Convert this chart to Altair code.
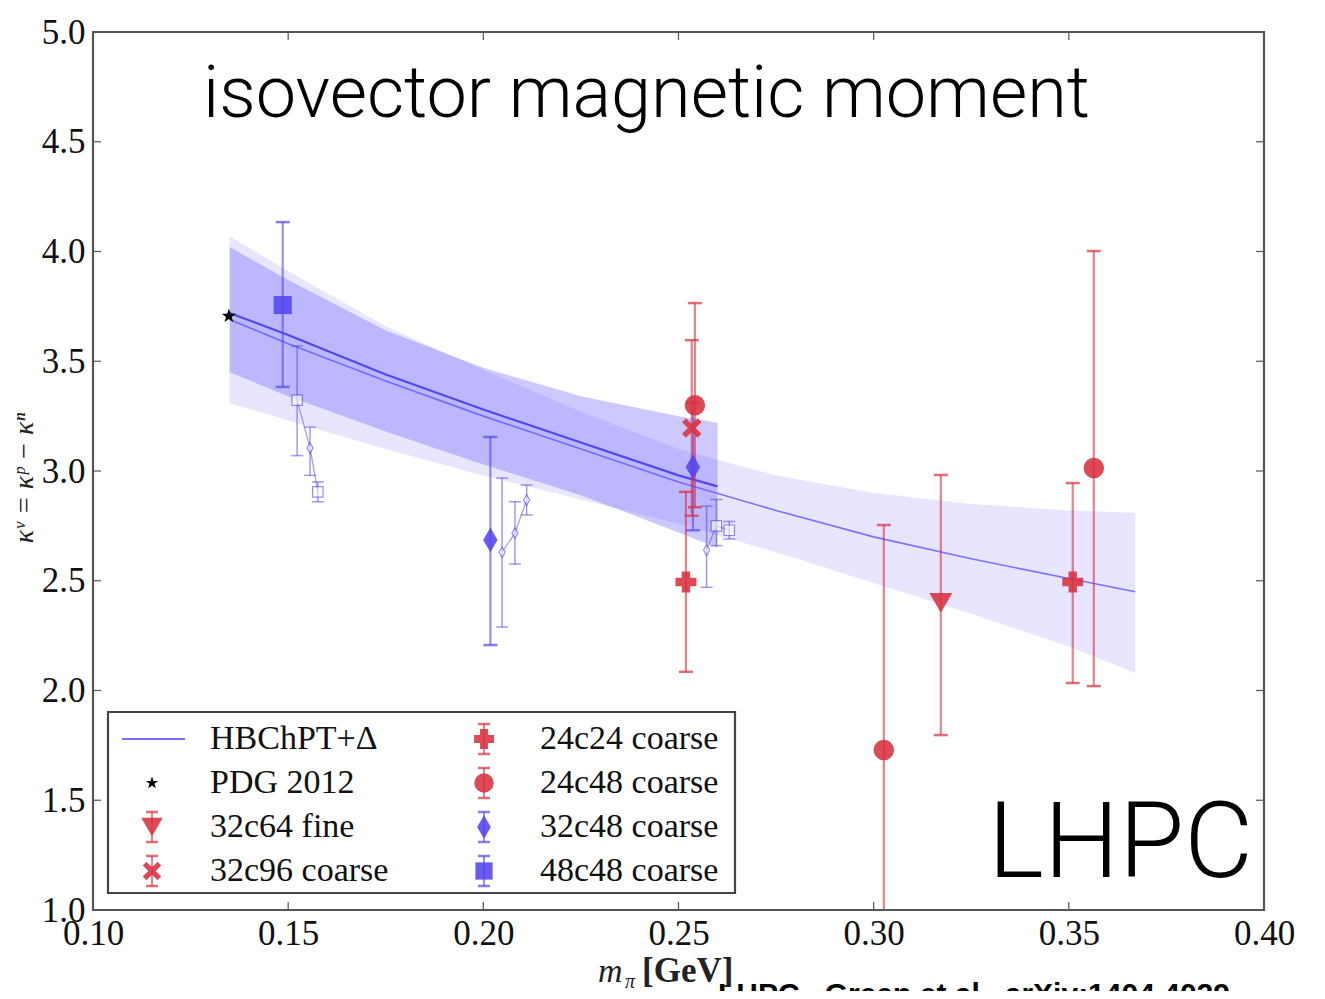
import altair as alt
import pandas as pd

# ---------------- data ----------------
xticks = [0.10, 0.15, 0.20, 0.25, 0.30, 0.35, 0.40]
yticks = [1.0, 1.5, 2.0, 2.5, 3.0, 3.5, 4.0, 4.5, 5.0]

# full-range HBChPT+Delta fit (light band)
band_a_x = [0.135, 0.15, 0.175, 0.20, 0.225, 0.25, 0.275, 0.30, 0.325, 0.35, 0.367]
band_a_lo = [3.31, 3.23, 3.10, 2.98, 2.87, 2.76, 2.63, 2.49, 2.35, 2.20, 2.08]
band_a_mid = [3.69, 3.58, 3.41, 3.25, 3.10, 2.95, 2.82, 2.70, 2.60, 2.51, 2.45]
band_a_hi = [4.07, 3.91, 3.66, 3.46, 3.27, 3.10, 2.98, 2.90, 2.85, 2.82, 2.81]

# restricted-range fit (darker band)
band_b_x = [0.135, 0.15, 0.175, 0.20, 0.225, 0.25, 0.26]
band_b_lo = [3.45, 3.34, 3.18, 3.03, 2.89, 2.72, 2.65]
band_b_mid = [3.72, 3.62, 3.44, 3.28, 3.13, 2.98, 2.93]
band_b_hi = [4.02, 3.87, 3.64, 3.47, 3.34, 3.25, 3.22]

# lattice ensembles (filled markers)
ens_label = ["48c48 coarse", "32c48 coarse", "32c48 coarse", "24c48 coarse", "32c96 coarse",
             "24c24 coarse", "24c48 coarse", "32c64 fine", "24c24 coarse", "24c48 coarse"]
ens_x = [0.1486, 0.2018, 0.2537, 0.2542, 0.2534, 0.2519, 0.3026, 0.3172, 0.3510, 0.3564]
ens_y = [3.756, 2.686, 3.018, 3.300, 3.196, 2.494, 1.729, 2.399, 2.494, 3.014]
ens_lo = [3.383, 2.207, 2.730, 2.835, 2.796, 2.085, 0.700, 1.797, 2.034, 2.020]
ens_hi = [4.134, 3.155, 3.310, 3.765, 3.596, 2.905, 2.754, 2.982, 2.945, 4.002]

# open (corrected) points
open_x = [0.1523, 0.1556, 0.1576, 0.2048, 0.2081, 0.2111, 0.2572, 0.2597, 0.2630]
open_y = [3.323, 3.105, 2.905, 2.630, 2.717, 2.868, 2.640, 2.750, 2.730]
open_lo = [3.07, 2.98, 2.86, 2.289, 2.576, 2.80, 2.47, 2.66, 2.69]
open_hi = [3.57, 3.20, 2.95, 2.968, 2.860, 2.936, 2.84, 2.87, 2.77]
open_grp = [1, 1, 1, 2, 2, 2, 3, 3, 3]
open_shape = ["square", "diamond", "square", "diamond", "diamond", "diamond", "diamond", "square", "square"]

# PDG value
pdg_x = [0.1348]
pdg_y = [3.706]

legend_labels = ["HBChPT+Δ", "PDG 2012", "32c64 fine", "32c96 coarse",
                 "24c24 coarse", "24c48 coarse", "32c48 coarse", "48c48 coarse"]

# ---------------- styling ----------------
RED = "#d8313f"
BLUE = "#5444f0"
STAR = "M0,-1L0.235,-0.324L0.951,-0.309L0.38,0.124L0.588,0.809L0,0.4L-0.588,0.809L-0.38,0.124L-0.951,-0.309L-0.235,-0.324Z"
THIN_DIAMOND = "M0,-1L0.58,0L0,1L-0.58,0Z"
XMARK = "M-1,-0.6L-0.6,-1L0,-0.4L0.6,-1L1,-0.6L0.4,0L1,0.6L0.6,1L0,0.4L-0.6,1L-1,0.6L-0.4,0Z"

style = {
    "48c48 coarse": ("square", BLUE, 330),
    "32c48 coarse": (THIN_DIAMOND, BLUE, 620),
    "24c48 coarse": ("circle", RED, 420),
    "32c96 coarse": (XMARK, RED, 380),
    "24c24 coarse": ("cross", RED, 440),
    "32c64 fine": ("triangle-down", RED, 520),
}

W, H = 1171, 878
SERIF = "Liberation Serif"

xs = alt.Scale(domain=[0.10, 0.40], nice=False, zero=False)
ys = alt.Scale(domain=[1.0, 5.0], nice=False, zero=False)

band_a = pd.DataFrame({"x": band_a_x, "lo": band_a_lo, "mid": band_a_mid, "hi": band_a_hi})
band_b = pd.DataFrame({"x": band_b_x, "lo": band_b_lo, "mid": band_b_mid, "hi": band_b_hi})

ens = pd.DataFrame({"label": ens_label, "x": ens_x, "y": ens_y, "lo": ens_lo, "hi": ens_hi})
ens["shape"] = [style[l][0] for l in ens_label]
ens["color"] = [style[l][1] for l in ens_label]
ens["size"] = [style[l][2] for l in ens_label]

opn = pd.DataFrame({"x": open_x, "y": open_y, "lo": open_lo, "hi": open_hi,
                    "grp": open_grp, "shape": [THIN_DIAMOND if s == "diamond" else s for s in open_shape]})

X = alt.X("x:Q", scale=xs, axis=alt.Axis(values=xticks, format=".2f", ticks=False, domain=False, grid=False,
                                          labelFont=SERIF, labelFontSize=35, labelColor="#111",
                                          labelPadding=6, labelFlush=False, labelOverlap=False, title=None))
Y = alt.Y("lo:Q", scale=ys, axis=alt.Axis(values=yticks, format=".1f", ticks=False, domain=False, grid=False,
                                           labelFont=SERIF, labelFontSize=35, labelColor="#111",
                                           labelPadding=8, labelFlush=False, labelOverlap=False, title=None))

layers = []
layers.append(alt.Chart(band_a).mark_area(color="#6a5cff", opacity=0.16).encode(x=X, y=Y, y2="hi:Q"))
layers.append(alt.Chart(band_b).mark_area(color="#5a4cff", opacity=0.30).encode(
    x=alt.X("x:Q", scale=xs), y=alt.Y("lo:Q", scale=ys), y2="hi:Q"))
layers.append(alt.Chart(band_a).mark_line(color="#6c5cff", strokeWidth=1.6, opacity=0.85).encode(
    x=alt.X("x:Q", scale=xs), y=alt.Y("mid:Q", scale=ys)))
layers.append(alt.Chart(band_b).mark_line(color="#4a38f0", strokeWidth=2.2, opacity=0.9).encode(
    x=alt.X("x:Q", scale=xs), y=alt.Y("mid:Q", scale=ys)))

# open points: zigzag lines, error bars, markers
layers.append(alt.Chart(opn).mark_line(color=BLUE, strokeWidth=1.2, opacity=0.55).encode(
    x=alt.X("x:Q", scale=xs), y=alt.Y("y:Q", scale=ys), detail="grp:N", order="x:Q"))
layers.append(alt.Chart(opn).mark_rule(color=BLUE, strokeWidth=1.5, opacity=0.55).encode(
    x=alt.X("x:Q", scale=xs), y=alt.Y("lo:Q", scale=ys), y2="hi:Q"))
for f in ["lo", "hi"]:
    layers.append(alt.Chart(opn).mark_tick(color=BLUE, orient="horizontal", size=12, thickness=1.5, opacity=0.55).encode(
        x=alt.X("x:Q", scale=xs), y=alt.Y(f + ":Q", scale=ys)))
layers.append(alt.Chart(opn).mark_point(fill="white", filled=False, stroke=BLUE, strokeWidth=1.2, opacity=0.6, size=110).encode(
    x=alt.X("x:Q", scale=xs), y=alt.Y("y:Q", scale=ys), shape=alt.Shape("shape:N", scale=None)))

# ensembles: error bars, caps, markers
layers.append(alt.Chart(ens).mark_rule(strokeWidth=2.2, opacity=0.6, clip=True).encode(
    x=alt.X("x:Q", scale=xs), y=alt.Y("lo:Q", scale=ys), y2="hi:Q", color=alt.Color("color:N", scale=None)))
for f in ["lo", "hi"]:
    layers.append(alt.Chart(ens).mark_tick(orient="horizontal", size=14, thickness=2.5, opacity=0.7, clip=True).encode(
        x=alt.X("x:Q", scale=xs), y=alt.Y(f + ":Q", scale=ys), color=alt.Color("color:N", scale=None)))
layers.append(alt.Chart(ens).mark_point(filled=True, opacity=0.88).encode(
    x=alt.X("x:Q", scale=xs), y=alt.Y("y:Q", scale=ys), shape=alt.Shape("shape:N", scale=None),
    color=alt.Color("color:N", scale=None), size=alt.Size("size:Q", scale=None)))

# PDG star
layers.append(alt.Chart(pd.DataFrame({"x": pdg_x, "y": pdg_y})).mark_point(
    shape=STAR, filled=True, color="black", size=220, opacity=1).encode(
    x=alt.X("x:Q", scale=xs), y=alt.Y("y:Q", scale=ys)))

# inward ticks on all four sides
xt = pd.DataFrame({"x": xticks[1:-1]})
yt = pd.DataFrame({"y": yticks[1:-1]})
layers.append(alt.Chart(xt).mark_rule(color="#555", strokeWidth=1.2).encode(
    x=alt.X("x:Q", scale=xs), y=alt.value(H - 8), y2=alt.value(H)))
layers.append(alt.Chart(xt).mark_rule(color="#555", strokeWidth=1.2).encode(
    x=alt.X("x:Q", scale=xs), y=alt.value(0), y2=alt.value(8)))
layers.append(alt.Chart(yt).mark_rule(color="#555", strokeWidth=1.2).encode(
    y=alt.Y("y:Q", scale=ys), x=alt.value(0), x2=alt.value(8)))
layers.append(alt.Chart(yt).mark_rule(color="#555", strokeWidth=1.2).encode(
    y=alt.Y("y:Q", scale=ys), x=alt.value(W - 8), x2=alt.value(W)))

# plot frame
one = pd.DataFrame({"t": [""]})
layers.append(alt.Chart(one).mark_rect(fillOpacity=0, stroke="#555", strokeWidth=2.2).encode(
    x=alt.value(0), x2=alt.value(W), y=alt.value(0), y2=alt.value(H)))

# ---------------- legend ----------------
layers.append(alt.Chart(one).mark_rect(fill="white", stroke="#444", strokeWidth=2.2).encode(
    x=alt.value(15), x2=alt.value(642), y=alt.value(680), y2=alt.value(861)))
row_y = [707, 751, 795, 839]
sym_x = [59, 391]
txt_x = [117, 447]
leg = pd.DataFrame({"label": legend_labels,
                    "col": [i // 4 for i in range(8)], "row": [i % 4 for i in range(8)]})
leg["px"] = [sym_x[c] for c in leg["col"]]
leg["tx"] = [txt_x[c] for c in leg["col"]]
leg["py"] = [row_y[r] for r in leg["row"]]
leg["lo"] = leg["py"] + 15
leg["hi"] = leg["py"] - 15
leg["shape"] = [style[l][0] if l in style else (STAR if l == "PDG 2012" else "circle") for l in leg["label"]]
leg["color"] = [style[l][1] if l in style else ("black" if l == "PDG 2012" else BLUE) for l in leg["label"]]
leg["size"] = [style[l][2] * 0.9 if l in style else 160 for l in leg["label"]]
leg_err = leg[leg["label"].isin(list(style.keys()))]
leg_star = leg[leg["label"] == "PDG 2012"]

PX = alt.X("px:Q", scale=None)
layers.append(alt.Chart(leg_err).mark_rule(strokeWidth=2, opacity=0.6).encode(
    x=PX, y=alt.Y("hi:Q", scale=None), y2="lo:Q", color=alt.Color("color:N", scale=None)))
for f in ["lo", "hi"]:
    layers.append(alt.Chart(leg_err).mark_tick(orient="horizontal", size=12, thickness=2.5, opacity=0.7).encode(
        x=PX, y=alt.Y(f + ":Q", scale=None), color=alt.Color("color:N", scale=None)))
layers.append(alt.Chart(leg_err).mark_point(filled=True, opacity=0.88).encode(
    x=PX, y=alt.Y("py:Q", scale=None), shape=alt.Shape("shape:N", scale=None),
    color=alt.Color("color:N", scale=None), size=alt.Size("size:Q", scale=None)))
layers.append(alt.Chart(leg_star).mark_point(shape=STAR, filled=True, color="black", size=170, opacity=1).encode(
    x=PX, y=alt.Y("py:Q", scale=None)))
layers.append(alt.Chart(one).mark_rule(color="#7a6cff", strokeWidth=1.8).encode(
    x=alt.value(29), x2=alt.value(92), y=alt.value(row_y[0])))
layers.append(alt.Chart(leg).mark_text(font=SERIF, fontSize=34, color="#111", align="left", baseline="middle").encode(
    x=alt.X("tx:Q", scale=None), y=alt.Y("py:Q", scale=None), text="label:N"))

# ---------------- annotation texts ----------------
def txt(s, x, y, **kw):
    return alt.Chart(pd.DataFrame({"t": [s]})).mark_text(**kw).encode(x=alt.value(x), y=alt.value(y), text="t:N")

layers.append(txt("isovector magnetic moment", 110, 85, font="Roboto", fontWeight=300, fontSize=72,
                  color="black", align="left", baseline="alphabetic"))
layers.append(txt("LHPC", 895, 845, font="Roboto", fontWeight=300, fontSize=106,
                  color="black", align="left", baseline="alphabetic"))
layers.append(txt("κᵛ  =  κᵖ  −  κⁿ", -68, 446, font=SERIF, fontStyle="italic", fontSize=28,
                  color="#222", align="center", baseline="middle", angle=270))
layers.append(txt("m", 505, 950, font=SERIF, fontStyle="italic", fontSize=34, color="#222",
                  align="left", baseline="alphabetic"))
layers.append(txt("π", 532, 956, font=SERIF, fontStyle="italic", fontSize=20, color="#222",
                  align="left", baseline="alphabetic"))
layers.append(txt("[GeV]", 549, 950, font=SERIF, fontWeight="bold", fontSize=35, color="#222",
                  align="left", baseline="alphabetic"))
layers.append(txt("LHPC , Green et al., arXiv:1404.4029", 625, 948, font="Liberation Sans", fontWeight="bold",
                  fontSize=30, color="black", align="left", baseline="top"))

chart = alt.layer(*layers).properties(
    width=W, height=H,
    autosize=alt.AutoSizeParams(type="none"),
    padding={"left": 85, "top": 24, "right": 53, "bottom": 81},
).configure_view(strokeWidth=0).configure(background="white")

chart.save("out.html", embed_options={"renderer": "svg", "actions": False})
